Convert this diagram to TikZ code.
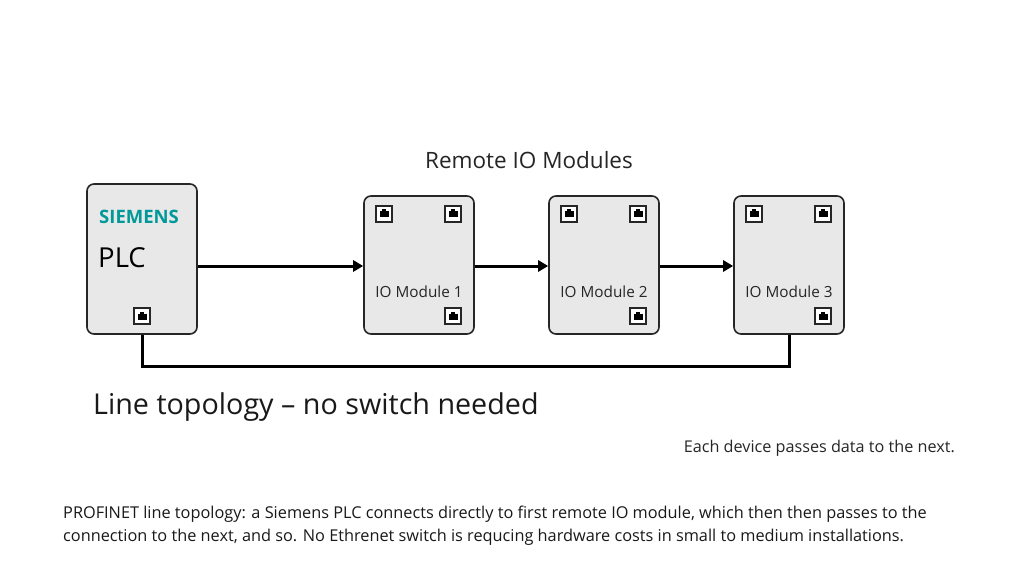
\documentclass[tikz,border=0pt]{standalone}
\usepackage{fontspec}
\setmainfont{Open Sans}
\usetikzlibrary{arrows.meta}
\definecolor{boxfill}{RGB}{232,232,232}
\definecolor{siemens}{RGB}{0,153,153}
\tikzset{
  dev/.style={draw=black!85,line width=1.6pt,fill=boxfill,rounded corners=7pt,minimum width=110pt,inner sep=0pt},
  port/.style={draw=black!85,line width=1.2pt,fill=white,minimum size=16pt,inner sep=0pt,
    path picture={\fill[black] ([xshift=-4.5pt,yshift=-3.5pt]path picture bounding box.center) rectangle ([xshift=4.5pt,yshift=2.5pt]path picture bounding box.center);
    \fill[black] ([xshift=-2.2pt,yshift=2.5pt]path picture bounding box.center) rectangle ([xshift=2.2pt,yshift=4.5pt]path picture bounding box.center);}},
  link/.style={line width=3pt,black},
  arr/.style={link,-{Triangle[length=10pt,width=11pt]}},
  lbl/.style={font=\fontsize{15.3}{17}\selectfont,text=black!85}
}
\begin{document}
\begin{tikzpicture}[x=1pt,y=-1pt]
\useasboundingbox[fill=white] (0,0) rectangle (1024,585);
\node[dev,minimum height=150pt] (plc) at (142,259) {};
\node[font=\bfseries\fontsize{18.5}{20}\selectfont,text=siemens,anchor=west,inner sep=0pt] (sie) at (99,217) {SIEMENS};
\node[font=\fontsize{27.5}{30}\selectfont,anchor=west,inner sep=0pt] (plct) at (98,258) {PLC};
\node[port] (pp) at (142,316) {};
\foreach \i/\x in {1/419,2/604,3/789}{
  \node[dev,minimum height=138pt] (m\i) at (\x,265) {};
  \node[lbl] (t\i) at (\x,292) {IO Module \i};
  \node[port] (a\i) at (\x-35,214) {};
  \node[port] (b\i) at (\x+34,214) {};
  \node[port] (c\i) at (\x+34,316) {};
}
\draw[arr] (plc.east|-0,266) -- (m1.west|-0,266);
\draw[arr] (m1.east|-0,266) -- (m2.west|-0,266);
\draw[arr] (m2.east|-0,266) -- (m3.west|-0,266);
\coordinate (l1) at (142,366);
\coordinate (l2) at (789,366);
\draw[link] (plc.south) -- (l1) -- (l2) -- (m3.south);
\node[font=\fontsize{22.5}{25}\selectfont,text=black!85] (title) at (529,160) {Remote IO Modules};
\node[font=\fontsize{28.7}{32}\selectfont,anchor=west,text=black!90,inner sep=0pt] (lt) at (93,407) {Line topology – no switch needed};
\node[font=\fontsize{16.2}{19}\selectfont,text=black!85,anchor=east,inner sep=0pt] (each) at (955,448) {Each device passes data to the next.};
\node[font=\fontsize{16.3}{23}\selectfont,anchor=north west,align=left,text=black!90,inner sep=0pt] (para) at (63,506) {PROFINET line topology: a Siemens PLC connects directly to first remote IO module, which then then passes to the\\connection to the next, and so. No Ethrenet switch is requcing hardware costs in small to medium installations.};
\end{tikzpicture}
\end{document}
